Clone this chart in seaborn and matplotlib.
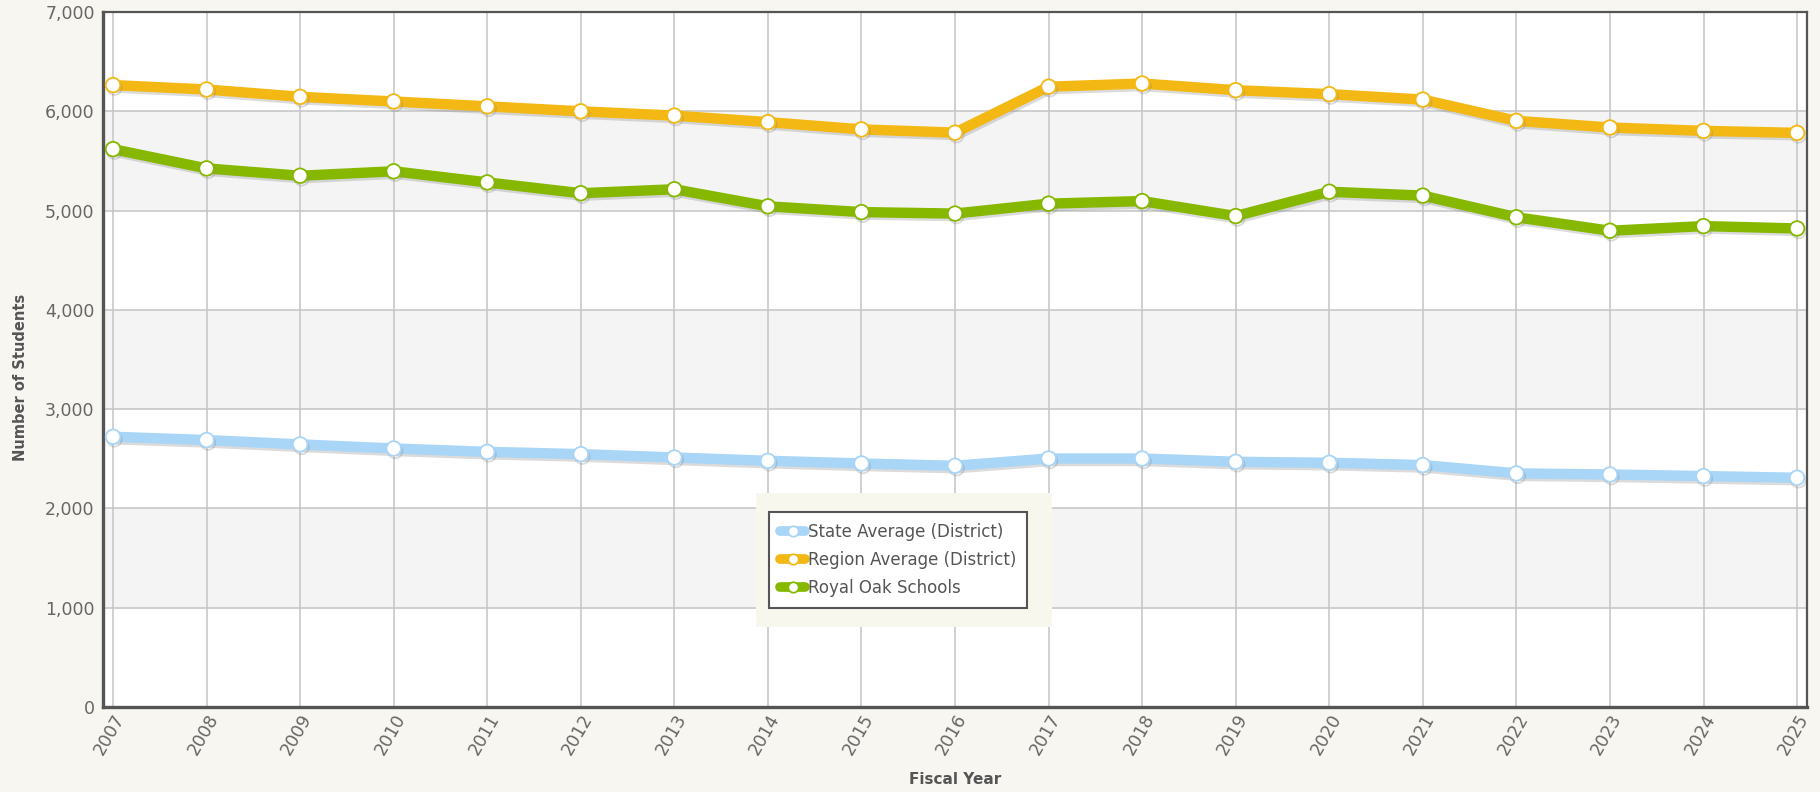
import matplotlib
matplotlib.use("Agg")
import matplotlib.pyplot as plt
import matplotlib.patheffects as pe
from matplotlib.patches import Rectangle
import pandas as pd
import seaborn as sns

years = list(range(2007, 2026))
state_avg = [2722, 2689, 2645, 2604, 2570, 2547, 2513, 2480, 2453, 2430,
             2503, 2503, 2470, 2460, 2437, 2353, 2342, 2326, 2309]
region_avg = [6264, 6220, 6146, 6099, 6050, 6000, 5957, 5891, 5818, 5785,
              6248, 6280, 6213, 6173, 6118, 5904, 5837, 5803, 5783]
royal_oak = [5619, 5425, 5351, 5396, 5284, 5175, 5215, 5043, 4985, 4970,
             5070, 5096, 4945, 5190, 5151, 4933, 4797, 4844, 4820]

series_names = ["State Average (District)", "Region Average (District)", "Royal Oak Schools"]
series_colors = ["#a9d5f7", "#f3b813", "#86b800"]
y_ticks = [0, 1000, 2000, 3000, 4000, 5000, 6000, 7000]

df = pd.DataFrame({
    "year": years * 3,
    "students": state_avg + region_avg + royal_oak,
    "series": [s for s in series_names for _ in years],
})

sns.set_style("white")
plt.rcParams["font.family"] = ["DejaVu Sans"]

bg = "#f7f6f0"
fig = plt.figure(figsize=(18.2, 7.92), dpi=100, facecolor=bg)
ax = fig.add_axes([0.0566, 0.1073, 0.9363, 0.8775])
ax.set_facecolor("white")

# alternating grey bands
for lo in [1000, 3000, 5000]:
    ax.axhspan(lo, lo + 1000, color="#f4f4f4", zorder=0, lw=0)

shadow = [pe.SimpleLineShadow(offset=(1, -1.8), shadow_color="#888888", alpha=0.3), pe.Normal()]
for name, color in zip(series_names, series_colors):
    sns.lineplot(
        data=df[df["series"] == name], x="year", y="students", ax=ax,
        color=color, lw=7.5, marker="o", markersize=10.5,
        markerfacecolor="white", markeredgecolor=color, markeredgewidth=1.3,
        solid_joinstyle="round", solid_capstyle="round",
        label=name, zorder=3, path_effects=shadow,
    )

ax.set_xlim(2006.893, 2025.107)
ax.set_ylim(0, 7000)
ax.set_xticks(years)
ax.set_yticks(y_ticks)
ax.set_yticklabels([f"{v:,}" for v in y_ticks])
ax.grid(True, color="#c4c4c4", lw=1.1, zorder=1)
ax.set_axisbelow(True)
ax.tick_params(axis="both", length=0, colors="#666666")
ax.tick_params(axis="y", labelsize=12.5, pad=6)
ax.tick_params(axis="x", labelsize=12.5, pad=3)
for lab in ax.get_xticklabels():
    lab.set_rotation(60)
    lab.set_ha("right")
    lab.set_rotation_mode("anchor")

for side, sp in ax.spines.items():
    sp.set_color("#555555")
    sp.set_linewidth(2.4 if side in ("left", "bottom") else 1.6)
    sp.set_visible(True)

ax.set_xlabel("Fiscal Year", fontsize=11, fontweight="bold", color="#555555")
ax.xaxis.set_label_coords(0.5, -0.094)
ax.set_ylabel("Number of Students", fontsize=10.5, fontweight="bold",
              color="#555555", va="center")
ax.yaxis.set_label_coords(-0.0487, 0.475)

# cream backdrop behind legend
ax.add_patch(Rectangle((0.383, 0.115), 0.174, 0.193, transform=ax.transAxes,
                       facecolor="#f8f7ee", edgecolor="none", zorder=4))
leg = ax.legend(loc="upper left", bbox_to_anchor=(0.391, 0.2806),
                fontsize=12, frameon=True, fancybox=False, shadow=False,
                handlelength=1.5, handletextpad=0.15, labelspacing=0.6,
                borderpad=0.65, borderaxespad=0)
leg.set_zorder(5)
frame = leg.get_frame()
frame.set_edgecolor("#555555")
frame.set_linewidth(1.5)
frame.set_facecolor("white")
frame.set_alpha(1)
for text in leg.get_texts():
    text.set_color("#555555")
for h in leg.legend_handles:
    h.set_linewidth(7)
    h.set_path_effects([])
    h.set_markersize(7.5)

fig.savefig("out.png", dpi=100, facecolor=bg)
